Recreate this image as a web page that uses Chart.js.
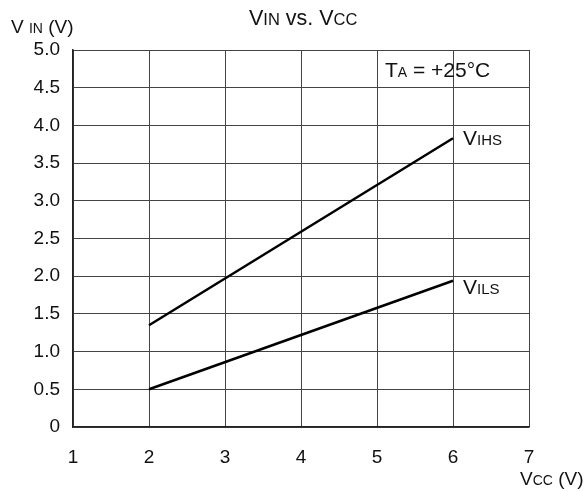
<!DOCTYPE html>
<html>
<head>
<meta charset="utf-8">
<script src="https://cdn.jsdelivr.net/npm/chart.js@4/dist/chart.umd.min.js"></script>
<style>
  html, body { margin: 0; padding: 0; background: #fff; }
  #wrap { width: 585px; height: 491px; }
</style>
</head>
<body>
<div id="wrap"><canvas id="graph" width="585" height="491"></canvas></div>
<script>
const vccValues = [2, 6];
const vihsValues = [1.35, 3.83];
const vilsValues = [0.5, 1.94];
const xTicks = [1, 2, 3, 4, 5, 6, 7];
const yTicks = [0, 0.5, 1, 1.5, 2, 2.5, 3, 3.5, 4, 4.5, 5];

const FONT = "'Liberation Sans', Arial, sans-serif";

// draw "V" + smaller letters, like the datasheet style
function drawSub(ctx, x, y, parts) {
  let cx = x;
  parts.forEach(([text, size]) => {
    ctx.font = size + "px " + FONT;
    ctx.fillText(text, cx, y);
    cx += ctx.measureText(text).width;
  });
}

const labelsPlugin = {
  id: "labels",
  afterDraw(chart) {
    const ctx = chart.ctx;
    const xs = chart.scales.x;
    const ys = chart.scales.y;
    ctx.save();
    ctx.fillStyle = "#111";
    ctx.textBaseline = "alphabetic";
    ctx.textAlign = "left";

    // series labels at line ends
    drawSub(ctx, xs.getPixelForValue(6) + 10, ys.getPixelForValue(vihsValues[1]) + 7, [["V", 21], ["IHS", 15]]);
    drawSub(ctx, xs.getPixelForValue(6) + 10, ys.getPixelForValue(vilsValues[1]) + 13, [["V", 21], ["ILS", 15]]);

    // temperature note
    drawSub(ctx, 385, 77, [["T", 21], ["A", 14], [" = +25\u00B0C", 21]]);

    // chart title
    drawSub(ctx, 249, 25, [["V", 21.5], ["IN", 16.5], [" vs. V", 21.5], ["CC", 16.5]]);

    // axis titles
    drawSub(ctx, 11, 33, [["V ", 19], ["IN", 14], [" (V)", 19]]);
    drawSub(ctx, 520, 485, [["V", 19], ["CC", 14], [" (V)", 19]]);
    ctx.restore();
  }
};

function init() {
  const ctx = document.getElementById("graph").getContext("2d");

  const config = {
    type: "scatter",
    data: {
      datasets: [{
        label: "VIHS",
        data: vccValues.map((x, i) => ({ x: x, y: vihsValues[i] })),
        showLine: true,
        borderColor: "#000",
        borderWidth: 2.5,
        pointRadius: 0
      }, {
        label: "VILS",
        data: vccValues.map((x, i) => ({ x: x, y: vilsValues[i] })),
        showLine: true,
        borderColor: "#000",
        borderWidth: 2.5,
        pointRadius: 0
      }]
    },
    options: {
      animation: false,
      responsive: false,
      devicePixelRatio: 1,
      layout: { padding: { top: 50, right: 56, left: 0, bottom: 0 } },
      plugins: {
        legend: { display: false },
        tooltip: { enabled: false }
      },
      scales: {
        x: {
          type: "linear",
          min: 1,
          max: 7,
          afterBuildTicks: (axis) => { axis.ticks = xTicks.map(v => ({ value: v })); },
          afterFit: (axis) => { axis.height = 64; },
          grid: { color: "#444", lineWidth: 1, drawTicks: false },
          border: { color: "#222", width: 1.5 },
          ticks: { color: "#111", padding: 19, font: { family: FONT, size: 19 } }
        },
        y: {
          type: "linear",
          min: 0,
          max: 5,
          afterBuildTicks: (axis) => { axis.ticks = yTicks.map(v => ({ value: v })); },
          afterFit: (axis) => { axis.width = 73; },
          grid: { color: "#444", lineWidth: 1, drawTicks: false },
          border: { color: "#222", width: 1.5 },
          ticks: {
            color: "#111",
            padding: 13,
            font: { family: FONT, size: 19 },
            callback: (v) => v === 0 ? "0" : v.toFixed(1)
          }
        }
      }
    },
    plugins: [labelsPlugin]
  };

  return new Chart(ctx, config);
}

init();
</script>
</body>
</html>
